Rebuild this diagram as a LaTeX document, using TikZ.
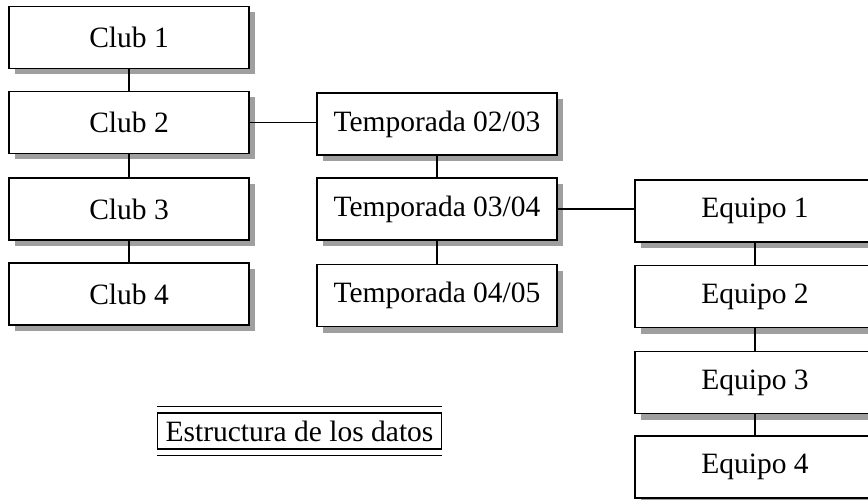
\documentclass[tikz,border=0pt]{standalone}
\usepackage{fontspec}
\setmainfont{Liberation Serif}
\usetikzlibrary{shadows}
\begin{document}
\begin{tikzpicture}[x=1pt,y=-1pt,
  box/.style={draw=black, line width=1.5pt, fill=white, minimum width=240pt, minimum height=62pt,
    inner sep=0pt, font=\fontsize{29.5}{31}\selectfont,
    drop shadow={shadow xshift=6pt, shadow yshift=-6pt, fill=gray!75, opacity=1}},
  link/.style={line width=1.4pt, draw=black}]
\useasboundingbox[fill=white] (0,0) rectangle (868,500);
\node[box] (c1) at (129,37.5) {Club 1};
\node[box] (c2) at (129,122.5) {Club 2};
\node[box] (c3) at (129,209) {Club 3};
\node[box] (c4) at (129,294) {Club 4};
\node[box] (t1) at (437,124) {Temporada 02/03};
\node[box] (t2) at (437,209) {Temporada 03/04};
\node[box] (t3) at (437,295.5) {Temporada 04/05};
\node[box] (e1) at (755,211) {Equipo 1};
\node[box] (e2) at (755,296.5) {Equipo 2};
\node[box] (e3) at (755,382.5) {Equipo 3};
\node[box] (e4) at (755,467) {Equipo 4};
\draw[link] (c1.south) -- (c2.north);
\draw[link] (c2.south) -- (c3.north);
\draw[link] (c3.south) -- (c4.north);
\draw[link] (t1.south) -- (t2.north);
\draw[link] (t2.south) -- (t3.north);
\draw[link] (e1.south) -- (e2.north);
\draw[link] (e2.south) -- (e3.north);
\draw[link] (e3.south) -- (e4.north);
\draw[link] (c2.east) -- (c2.east -| t1.west);
\draw[link] (t2.east) -- (t2.east -| e1.west);
% caption
\node[draw=black, line width=1.2pt, minimum width=284pt, minimum height=36pt, inner sep=0pt,
  font=\fontsize{29.5}{31}\selectfont] (cap) at (299.5,431) {Estructura de los datos};
\draw[line width=1.6pt] ([yshift=6pt]cap.north west) -- ([yshift=6pt]cap.north east);
\draw[line width=1.6pt] ([yshift=-6pt]cap.south west) -- ([yshift=-6pt]cap.south east);
\end{tikzpicture}
\end{document}
